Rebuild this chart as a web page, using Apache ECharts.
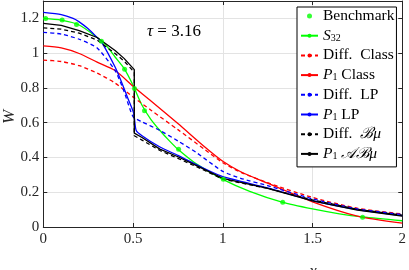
<!DOCTYPE html>
<html><head><meta charset="utf-8">
<script src="https://cdn.jsdelivr.net/npm/echarts@6/dist/echarts.min.js"></script>
<style>html,body{margin:0;padding:0;background:#fff}#c{width:409px;height:270px}</style>
</head><body><div id="c"></div>
<script>
// Benchmark points
const benchX = [0.013,0.105,0.185,0.324,0.453,0.508,0.564,0.754,1.003,1.334,1.779];
const benchY = [1.199,1.19,1.165,1.069,0.908,0.797,0.668,0.447,0.274,0.143,0.056];
// S32
const s32X = [0,0.1,0.2,0.3,0.35,0.4,0.45,0.5,0.55,0.6,0.65,0.7,0.75,0.85,1,1.15,1.33,1.5,1.65,1.78,2];
const s32Y = [1.2,1.19,1.162,1.09,1.045,0.978,0.912,0.815,0.7,0.618,0.555,0.498,0.447,0.365,0.274,0.205,0.143,0.104,0.076,0.058,0.036];
// Diff. Class
const diffClassX = [0,0.1,0.2,0.3,0.4,0.5,0.6,0.75,0.9,1,1.1,1.25,1.5,1.75,2];
const diffClassY = [0.96,0.952,0.928,0.885,0.828,0.748,0.672,0.56,0.445,0.37,0.315,0.255,0.17,0.108,0.075];
// P1 Class
const p1ClassX = [0,0.1,0.2,0.3,0.4,0.5,0.6,0.75,0.9,1,1.1,1.25,1.5,1.75,2];
const p1ClassY = [1.042,1.03,0.998,0.948,0.9,0.81,0.725,0.595,0.46,0.378,0.318,0.252,0.145,0.063,0.022];
// Diff. LP
const diffLPX = [0,0.1,0.2,0.3,0.4,0.45,0.5,0.55,0.65,0.75,0.85,1,1.1,1.25,1.5,1.75,2];
const diffLPY = [1.12,1.11,1.08,1.03,0.9,0.78,0.635,0.605,0.555,0.495,0.43,0.32,0.28,0.238,0.162,0.104,0.072];
// P1 LP
const p1LPX = [0,0.1,0.166,0.2,0.25,0.3,0.324,0.4,0.443,0.471,0.504,0.517,0.55,0.65,0.75,0.9,1,1.25,1.5,1.75,2];
const p1LPY = [1.235,1.222,1.2,1.18,1.14,1.09,1.065,0.92,0.816,0.74,0.653,0.557,0.525,0.46,0.412,0.335,0.29,0.225,0.152,0.1,0.065];
// Diff. Bmu
const diffBX = [0,0.1,0.2,0.3,0.4,0.45,0.507,0.507,0.55,0.65,0.75,0.9,1,1.25,1.5,1.75,2];
const diffBY = [1.145,1.138,1.115,1.075,0.998,0.955,0.89,0.525,0.5,0.44,0.395,0.325,0.275,0.222,0.156,0.102,0.068];
// P1 ABmu
const p1ABX = [0,0.1,0.2,0.3,0.4,0.45,0.507,0.507,0.55,0.65,0.75,0.9,1,1.25,1.5,1.75,2];
const p1ABY = [1.171,1.16,1.13,1.09,1.015,0.97,0.905,0.54,0.515,0.448,0.404,0.33,0.28,0.222,0.15,0.097,0.062];

const xTicks = [0,0.5,1,1.5,2];
const yTicks = [0,0.2,0.4,0.6,0.8,1,1.2];

const zip = (xs, ys) => xs.map((x,i) => [x, ys[i]]);
const AX = '#262626';
const FONT = "'Liberation Serif', 'Times New Roman', serif";

const chart = echarts.init(document.getElementById('c'), null, {renderer:'canvas'});
function mkLine(name, xs, ys, color, dashed, smooth){
  return {name, type:'line', data: zip(xs, ys), symbol:'none', smooth: smooth,
    lineStyle:{color, width:1.3, type: dashed ? [4,3] : 'solid'},
    itemStyle:{color}, animation:false};
}
const option = {
  animation:false,
  backgroundColor:'#fff',
  grid:{left:43.3, right:5, top:1, bottom:43, containLabel:false},
  xAxis:[
    {type:'value', min:0, max:2, interval:0.5, position:'bottom',
     axisLine:{show:true, onZero:false, lineStyle:{color:AX, width:1}},
     axisTick:{show:true, inside:true, length:4, lineStyle:{color:AX}},
     axisLabel:{fontFamily:FONT, fontSize:15, color:AX, margin:5,
       formatter: v => xTicks.includes(v) ? String(v) : ''},
     splitLine:{show:true, lineStyle:{color:'#e3e3e3', width:1}}},
    {type:'value', min:0, max:2, interval:0.5, position:'top',
     axisLine:{show:true, onZero:false, lineStyle:{color:AX, width:1}},
     axisTick:{show:true, inside:true, length:4, lineStyle:{color:AX}},
     axisLabel:{show:false}, splitLine:{show:false}}
  ],
  yAxis:[
    {type:'value', min:0, max:1.3, interval:0.2, position:'left',
     axisLine:{show:true, onZero:false, lineStyle:{color:AX, width:1}},
     axisTick:{show:true, inside:true, length:4, lineStyle:{color:AX}},
     axisLabel:{fontFamily:FONT, fontSize:15, color:AX, margin:4,
       formatter: v => { const r = Math.round(v*10)/10; return yTicks.some(t=>Math.abs(t-r)<1e-9) && Math.abs(v-r)<1e-6 ? String(r) : ''; }},
     splitLine:{show:true, lineStyle:{color:'#e3e3e3', width:1}}},
    {type:'value', min:0, max:1.3, interval:0.2, position:'right',
     axisLine:{show:true, onZero:false, lineStyle:{color:AX, width:1}},
     axisTick:{show:true, inside:true, length:4, lineStyle:{color:AX}},
     axisLabel:{show:false}, splitLine:{show:false}}
  ],
  legend:{
    orient:'vertical', left:297, top:7, itemWidth:17, itemHeight:5, itemGap:3.7,
    padding:[1,2,5,3], borderColor:'#000', borderWidth:1, backgroundColor:'#fff',
    textStyle:{fontFamily:FONT, fontSize:15.5, color:'#000', lineHeight:15,
      rich:{
        i:{fontFamily:FONT, fontSize:15.5, fontStyle:'italic', color:'#000', lineHeight:15},
        n:{fontFamily:FONT, fontSize:15.5, color:'#000', lineHeight:15},
        s:{fontFamily:FONT, fontSize:10, color:'#000', lineHeight:15, verticalAlign:'bottom', padding:[5,0,0,0]}
      }},
    formatter: name => ({
      'S32':'{i|S}{s|32}',
      'Diff. Class':'{n|Diff.  Class}',
      'P1 Class':'{i|P}{s|1}{n| Class}',
      'Diff. LP':'{n|Diff.  LP}',
      'P1 LP':'{i|P}{s|1}{n| LP}',
      'Diff. Bmu':'{n|Diff.  }{i|ℬμ}',
      'P1 ABmu':'{i|P}{s|1}{i| 𝒜ℬμ}'
    }[name] || name),
    data:[
      {name:'Benchmark', icon:'circle'},
      'S32','Diff. Class','P1 Class','Diff. LP','P1 LP','Diff. Bmu','P1 ABmu'
    ]
  },
  graphic:[
    {type:'text', left:147, top:23, style:{text:'{i|τ} = 3.16', fill:'#000',
      rich:{i:{fontStyle:'italic', fontFamily:FONT, fontSize:17}}, fontFamily:FONT, fontSize:17}},
    {type:'text', x:10, y:117, rotation:Math.PI/2, style:{text:'W', fontFamily:FONT, fontStyle:'italic', fontSize:17, fill:AX, align:'center', verticalAlign:'middle'}},
    {type:'text', x:313, y:263, style:{text:'x', fontFamily:FONT, fontStyle:'italic', fontSize:17, fill:AX, align:'center', verticalAlign:'top'}}
  ],
  series:[
    {name:'Benchmark', type:'scatter', data: zip(benchX, benchY), symbol:'circle', symbolSize:5,
     itemStyle:{color:'#00ff00'}, z:5},
    mkLine('S32', s32X, s32Y, '#00ff00', false, 0.25),
    mkLine('Diff. Class', diffClassX, diffClassY, '#ff0000', true, 0.25),
    mkLine('P1 Class', p1ClassX, p1ClassY, '#ff0000', false, 0.25),
    mkLine('Diff. LP', diffLPX, diffLPY, '#0000ff', true, 0.2),
    mkLine('P1 LP', p1LPX, p1LPY, '#0000ff', false, 0.2),
    mkLine('Diff. Bmu', diffBX, diffBY, '#000000', true, false),
    mkLine('P1 ABmu', p1ABX, p1ABY, '#000000', false, false)
  ]
};
chart.setOption(option);
</script></body></html>
